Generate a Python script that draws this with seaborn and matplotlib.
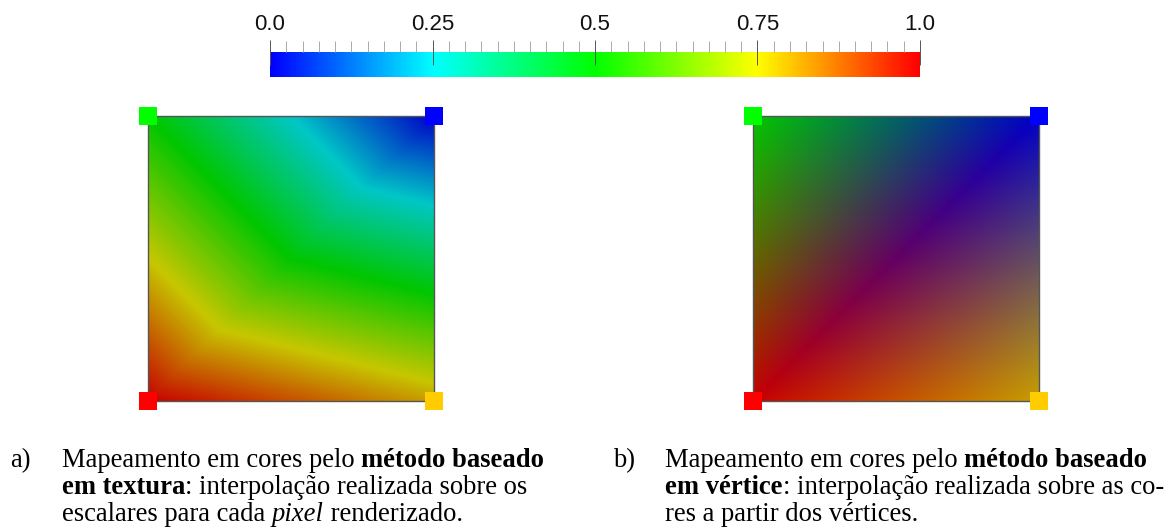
import numpy as np
import matplotlib
matplotlib.use("Agg")
import matplotlib.pyplot as plt
import matplotlib.tri as mtri
from matplotlib.colors import LinearSegmentedColormap, to_rgb
import seaborn as sns

# ---------------- data ----------------
cmap_stops = [0.0, 0.25, 0.5, 0.75, 1.0]
cmap_colors = ["#0000ff", "#00ffff", "#00ff00", "#ffff00", "#ff0000"]
tick_values = [0.0, 0.25, 0.5, 0.75, 1.0]
tick_labels = ["0.0", "0.25", "0.5", "0.75", "1.0"]
minor_step = 0.025

corner_names = ["inf_esq", "inf_dir", "sup_dir", "sup_esq"]
corner_x = [0.0, 1.0, 1.0, 0.0]
corner_y = [0.0, 0.0, 1.0, 1.0]
corner_values = [1.0, 0.8, 0.0, 0.5]
triangles = [[0, 1, 2], [0, 2, 3]]
shade = 0.78

caption_a = [
    [("Mapeamento em cores pelo ", "normal", "normal"), ("método baseado", "bold", "normal")],
    [("em textura", "bold", "normal"), (": interpolação realizada sobre os", "normal", "normal")],
    [("escalares para cada ", "normal", "normal"), ("pixel", "normal", "italic"), (" renderizado.", "normal", "normal")],
]
caption_b = [
    [("Mapeamento em cores pelo ", "normal", "normal"), ("método baseado", "bold", "normal")],
    [("em vértice", "bold", "normal"), (": interpolação realizada sobre as co-", "normal", "normal")],
    [("res a partir dos vértices.", "normal", "normal")],
]

# ---------------- figure ----------------
W, H, DPI = 1168, 532, 100
sns.set_theme(style="white")
plt.rcParams["font.family"] = ["Liberation Sans", "DejaVu Sans"]

fig = plt.figure(figsize=(W / DPI, H / DPI), dpi=DPI, facecolor="white")


def px_axes(x0, y0, x1, y1):
    return fig.add_axes([x0 / W, 1 - y1 / H, (x1 - x0) / W, (y1 - y0) / H])


cmap = LinearSegmentedColormap.from_list("jet5", list(zip(cmap_stops, cmap_colors)))
dark_cmap = LinearSegmentedColormap.from_list(
    "jet5d", [(s, tuple(shade * c for c in to_rgb(col))) for s, col in zip(cmap_stops, cmap_colors)]
)

# ---- colour bar ----
cax = px_axes(270, 52, 920, 77)
grad = np.linspace(0, 1, 700)[None, :]
cax.imshow(grad, cmap=cmap, aspect="auto", extent=[0, 1, 0, 1], vmin=0, vmax=1)
cax.set_xlim(0, 1)
cax.set_ylim(0, 1)
for s in cax.spines.values():
    s.set_visible(False)
cax.set_yticks([])
cax.xaxis.tick_top()
cax.set_xticks(tick_values)
cax.set_xticklabels(tick_labels)
cax.set_xticks(np.arange(0, 1 + minor_step / 2, minor_step), minor=True)
cax.tick_params(axis="x", which="minor", direction="out", length=8, width=0.7,
                color="#aaaaaa", top=True, bottom=False)
cax.tick_params(axis="x", which="major", direction="inout", length=18, width=0.7,
                color="#555555", labelsize=16, pad=3.5, top=True, bottom=False,
                labeltop=True, labelbottom=False, labelcolor="#111111")

# ---- interpolation over the two triangles ----
tri = mtri.Triangulation(corner_x, corner_y, triangles)
n = 400
g = (np.arange(n) + 0.5) / n
gx, gy = np.meshgrid(g, g)
field = mtri.LinearTriInterpolator(tri, corner_values)(gx, gy).filled(np.nan)

corner_rgb = cmap(np.array(corner_values))[:, :3]
rgb = np.dstack([
    mtri.LinearTriInterpolator(tri, shade * corner_rgb[:, k])(gx, gy).filled(0)
    for k in range(3)
])
rgb = np.clip(rgb, 0, 1)

ax1 = px_axes(148, 116, 434, 401)
ax1.imshow(field, origin="lower", extent=[0, 1, 0, 1], cmap=dark_cmap, vmin=0, vmax=1,
           interpolation="bilinear", aspect="auto")
ax2 = px_axes(753, 116, 1039, 401)
ax2.imshow(rgb, origin="lower", extent=[0, 1, 0, 1], interpolation="bilinear", aspect="auto")

palette = dict(zip(corner_names, [tuple(c) for c in corner_rgb]))
for ax in (ax1, ax2):
    sns.scatterplot(x=corner_x, y=corner_y, hue=corner_names, palette=palette, marker="s",
                    s=170, linewidth=0, legend=False, clip_on=False, zorder=5, ax=ax)
    ax.set_xlim(0, 1)
    ax.set_ylim(0, 1)
    ax.set_xticks([])
    ax.set_yticks([])
    ax.set_xlabel("")
    ax.set_ylabel("")
    for sp in ax.spines.values():
        sp.set_visible(True)
        sp.set_color("#555555")
        sp.set_linewidth(1.0)

# ---- captions ----
renderer = fig.canvas.get_renderer()
serif = ["Liberation Serif", "DejaVu Serif"]
cap_size = 19.2


def run_width(text, weight, style):
    t1 = fig.text(0, 0, text + "x", fontsize=cap_size, fontweight=weight, fontstyle=style, family=serif)
    t2 = fig.text(0, 0, "x", fontsize=cap_size, fontweight=weight, fontstyle=style, family=serif)
    w = t1.get_window_extent(renderer).width - t2.get_window_extent(renderer).width
    t1.remove()
    t2.remove()
    return w


def rich_caption(label, x_label, x_text, baselines, lines):
    fig.text(x_label / W, 1 - baselines[0] / H, label, fontsize=cap_size, family=serif,
             va="baseline", ha="left", color="black")
    for yb, runs in zip(baselines, lines):
        x = x_text
        for text, weight, style in runs:
            fig.text(x / W, 1 - yb / H, text, fontsize=cap_size, fontweight=weight,
                     fontstyle=style, family=serif, va="baseline", ha="left", color="black")
            x += run_width(text, weight, style)


baselines = [467, 494, 521]
rich_caption("a)", 10, 62, baselines, caption_a)
rich_caption("b)", 613, 665, baselines, caption_b)

fig.savefig("out.png", dpi=DPI, facecolor="white")
